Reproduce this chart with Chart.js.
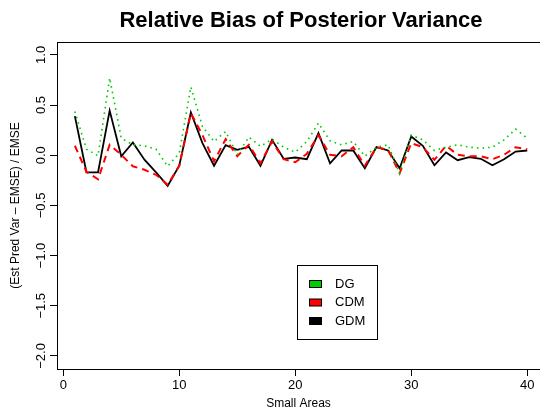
<!DOCTYPE html>
<html>
<head>
<meta charset="utf-8">
<script src="https://cdn.jsdelivr.net/npm/chart.js@4"></script>
<style>
  html, body { margin: 0; padding: 0; background: #fff; }
  #wrap { width: 540px; height: 412px; }
</style>
</head>
<body>
<div id="wrap"><canvas id="relBiasChart" width="540" height="412"></canvas></div>
<script>
// 소지역 번호
const smallAreas = [1, 2, 3, 4, 5, 6, 7, 8, 9, 10, 11, 12, 13, 14, 15, 16, 17, 18, 19, 20,
                    21, 22, 23, 24, 25, 26, 27, 28, 29, 30, 31, 32, 33, 34, 35, 36, 37, 38, 39, 40];

const dgBias = [0.436, 0.06, -0.006, 0.77, 0.17, 0.104, 0.094, 0.06, -0.11, 0.02,
                0.68, 0.286, 0.137, 0.236, 0.004, 0.18, 0.087, 0.16, 0.08, 0.03,
                0.137, 0.32, 0.143, 0.104, 0.137, -0.01, 0.08, 0.104, -0.18, 0.2,
                0.153, 0.047, 0.08, 0.104, 0.08, 0.07, 0.08, 0.153, 0.26, 0.17];
const cdmBias = [0.094, -0.165, -0.24, 0.104, 0.004, -0.11, -0.145, -0.195, -0.295, -0.105,
                 0.42, 0.2, -0.06, 0.16, -0.01, 0.104, -0.08, 0.137, -0.04, -0.07,
                 0.014, 0.2, 0.004, -0.01, 0.08, -0.105, 0.08, 0.054, -0.18, 0.12,
                 0.08, -0.046, 0.094, 0.004, -0.01, -0.01, -0.04, 0.004, 0.08, 0.06];
const gdmBias = [0.39, -0.17, -0.17, 0.445, -0.01, 0.127, -0.045, -0.17, -0.305, -0.105,
                 0.426, 0.12, -0.105, 0.10, 0.054, 0.084, -0.105, 0.153, -0.036, -0.023,
                 -0.04, 0.22, -0.08, 0.047, 0.047, -0.13, 0.08, 0.047, -0.13, 0.187,
                 0.094, -0.1, 0.027, -0.05, -0.02, -0.036, -0.1, -0.04, 0.037, 0.047];

const xTicks = [0, 10, 20, 30, 40];
const yTicks = [-2.0, -1.5, -1.0, -0.5, 0.0, 0.5, 1.0];

const FONT = "'Liberation Sans', Arial, Helvetica, sans-serif";
const fmtY = v => (v < 0 ? '\u2212' : '') + Math.abs(v).toFixed(1);

function toPoints(arr) {
    return smallAreas.map((a, i) => ({ x: a, y: arr[i] }));
}

// 제목, 위쪽 테두리, 세로 눈금 글자, 범례
const extrasPlugin = {
    id: 'extras',
    afterDraw(chart) {
        const ctx = chart.ctx;
        const area = chart.chartArea;
        const yScale = chart.scales.y;
        ctx.save();

        // top border of the box
        ctx.strokeStyle = '#000';
        ctx.lineWidth = 1;
        ctx.beginPath();
        ctx.moveTo(area.left, area.top + 0.5);
        ctx.lineTo(area.right, area.top + 0.5);
        ctx.stroke();

        // title
        ctx.fillStyle = '#000';
        ctx.font = 'bold 22px ' + FONT;
        ctx.textAlign = 'center';
        ctx.textBaseline = 'middle';
        ctx.fillText('Relative Bias of Posterior Variance', 301, 21);

        // rotated y tick labels
        ctx.font = '13px ' + FONT;
        yTicks.forEach(v => {
            const py = yScale.getPixelForValue(v);
            ctx.save();
            ctx.translate(41, py);
            ctx.rotate(-Math.PI / 2);
            ctx.fillText(fmtY(v), 0, 0);
            ctx.restore();
        });

        // legend
        const lx = 297, ly = 265, lw = 80, lh = 74;
        ctx.lineWidth = 1;
        ctx.strokeStyle = '#000';
        ctx.strokeRect(lx + 0.5, ly + 0.5, lw, lh);
        ctx.textAlign = 'left';
        ctx.font = '13px ' + FONT;
        chart.data.datasets.forEach((ds, i) => {
            const cy = 284 + i * 18.5;
            ctx.fillStyle = ds.legendFill;
            ctx.fillRect(309, cy - 3.5, 12, 7);
            ctx.strokeRect(309.5, cy - 3.5, 12, 7);
            ctx.fillStyle = '#000';
            ctx.fillText(ds.label, 335, cy);
        });
        ctx.restore();
    }
};

const ctx = document.getElementById('relBiasChart');
new Chart(ctx, {
    type: 'line',
    data: {
        datasets: [
            {
                label: 'DG',
                data: toPoints(dgBias),
                borderColor: '#00CD00',
                legendFill: '#00CD00',
                borderWidth: 1.6,
                borderDash: [1.6, 4],
                pointRadius: 0,
                tension: 0
            },
            {
                label: 'CDM',
                data: toPoints(cdmBias),
                borderColor: '#FF0000',
                legendFill: '#FF0000',
                borderWidth: 2,
                borderDash: [7, 5],
                pointRadius: 0,
                tension: 0
            },
            {
                label: 'GDM',
                data: toPoints(gdmBias),
                borderColor: '#000000',
                legendFill: '#000000',
                borderWidth: 1.8,
                pointRadius: 0,
                tension: 0
            }
        ]
    },
    options: {
        responsive: false,
        animation: false,
        layout: { padding: { top: 42, right: 0, left: 0, bottom: 0 } },
        plugins: {
            legend: { display: false },
            title: { display: false },
            tooltip: { enabled: false }
        },
        scales: {
            x: {
                type: 'linear',
                min: -0.54,
                max: 41.1,
                afterBuildTicks: s => { s.ticks = xTicks.map(v => ({ value: v })); },
                afterFit: s => { s.height = 43; },
                grid: { display: true, drawOnChartArea: false, drawTicks: true, tickLength: 7, color: '#000', lineWidth: 1 },
                border: { display: true, color: '#000', width: 1 },
                ticks: { color: '#000', font: { family: FONT, size: 13 }, padding: 2, maxRotation: 0 },
                title: { display: true, text: 'Small Areas', color: '#000', font: { family: FONT, size: 12 }, padding: { top: 0, bottom: 1 } }
            },
            y: {
                type: 'linear',
                min: -2.13,
                max: 1.128,
                afterBuildTicks: s => { s.ticks = yTicks.map(v => ({ value: v })); },
                afterFit: s => { s.width = 57; },
                grid: { display: true, drawOnChartArea: false, drawTicks: true, tickLength: 7, color: '#000', lineWidth: 1 },
                border: { display: true, color: '#000', width: 1 },
                ticks: { color: 'rgba(0,0,0,0)', font: { family: FONT, size: 13 } },
                title: { display: true, text: '(Est Pred Var \u2013 EMSE) / EMSE', color: '#000', font: { family: FONT, size: 12 }, padding: { top: 8, bottom: 0 } }
            }
        }
    },
    plugins: [extrasPlugin]
});
</script>
</body>
</html>
